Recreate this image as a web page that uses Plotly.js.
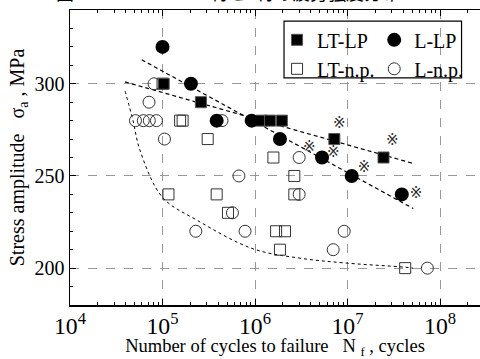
<!DOCTYPE html>
<html>
<head>
<meta charset="utf-8">
<script src="https://cdn.plot.ly/plotly-3.0.1.min.js"></script>
<style>html,body{margin:0;padding:0;background:#fff;}#chart{width:480px;height:359px;}</style>
</head>
<body>
<div id="chart"></div>
<script>
// LT-LP (filled squares)
const ltlpN = [1.03e5, 2.6e5, 1.18e6, 1.45e6, 1.95e6, 7.2e6, 2.45e7];
const ltlpS = [300, 290, 280, 280, 280, 270, 260];
// L-LP (filled circles)
const llpN = [1.0e5, 2.03e5, 3.85e5, 9.2e5, 1.86e6, 5.3e6, 1.11e7, 3.86e7];
const llpS = [320, 300, 280, 280, 270, 260, 250, 240];
// LT-n.p. (open squares)
const ltnpN = [1.0e5, 1.55e5, 1.65e5, 3.08e5, 1.16e5, 3.85e5, 5.1e5, 1.58e6, 2.66e6, 2.66e6, 1.69e6, 2.11e6, 1.86e6, 4.2e7];
const ltnpS = [300, 280, 280, 270, 240, 240, 230, 260, 250, 240, 220, 220, 210, 200];
// L-n.p. (open circles)
const lnpN = [8.1e4, 7.15e4, 5.1e4, 6.2e4, 7.2e4, 8.6e4, 4.4e5, 1.05e5, 6.7e5, 3.0e6, 3.0e6, 5.7e5, 2.29e5, 7.8e5, 9.2e6, 7.0e6, 7.3e7];
const lnpS = [300, 290, 280, 280, 280, 280, 280, 270, 250, 260, 240, 230, 220, 220, 220, 210, 200];
// ※ marks
const markN = [8.15e6, 3.85e6, 7.0e6, 3.05e7, 1.51e7, 5.5e7];
const markS = [278, 265, 262.5, 269, 254, 240];
// trend lines
const ltlpFitN = [3.94e4, 5.1e7];
const ltlpFitS = [301, 256.8];
const llpFitN = [5.96e4, 5.14e7];
const llpFitS = [313, 232.3];
const npFitN = [3.94e4, 4.8e4, 5.7e4, 1.0e5, 2.36e5, 9.5e5, 3.06e6, 9.9e6, 4.19e7, 5.1e7];
const npFitS = [296, 280, 264, 238.4, 226, 210.5, 205.4, 202.7, 200.5, 200];

const ser = 'Liberation Serif, Times New Roman, serif';
const dashLine = {color: '#000', width: 1.2, dash: '4px,3px'};

const traces = [
  {x: ltlpFitN, y: ltlpFitS, mode: 'lines', line: dashLine, showlegend: false, hoverinfo: 'skip'},
  {x: llpFitN, y: llpFitS, mode: 'lines', line: dashLine, showlegend: false, hoverinfo: 'skip'},
  {x: npFitN, y: npFitS, mode: 'lines', line: {color: '#000', width: 1, dash: '3px,3px', shape: 'spline'}, showlegend: false, hoverinfo: 'skip'},
  {x: ltnpN, y: ltnpS, mode: 'markers', name: 'LT-n.p.', legend: 'legend',
   marker: {symbol: 'square-open', size: 11, color: '#333', line: {width: 1}}},
  {x: lnpN, y: lnpS, mode: 'markers', name: 'L-n.p.', legend: 'legend2',
   marker: {symbol: 'circle-open', size: 12, color: '#333', line: {width: 1}}},
  {x: ltlpN, y: ltlpS, mode: 'markers', name: 'LT-LP', legend: 'legend',
   marker: {symbol: 'square', size: 11, color: '#000', line: {width: 1, color: '#555'}}},
  {x: llpN, y: llpS, mode: 'markers', name: 'L-LP', legend: 'legend2',
   marker: {symbol: 'circle', size: 14, color: '#000'}},
  {x: markN, y: markS, mode: 'text', text: markN.map(() => '※'), showlegend: false,
   textfont: {family: 'DejaVu Sans', size: 15, color: '#333'}, hoverinfo: 'skip'}
];

const layout = {
  width: 480, height: 359,
  margin: {l: 70, r: 0, t: 10, b: 54},
  paper_bgcolor: '#fff', plot_bgcolor: '#fff',
  font: {family: ser, color: '#000', size: 18},
  xaxis: {
    type: 'log', range: [4, 8.432], dtick: 1, exponentformat: 'power',
    showline: true, linecolor: '#000', linewidth: 1.5, mirror: 'ticks',
    ticks: 'inside', ticklen: 6, tickcolor: '#000',
    minor: {ticks: 'inside', ticklen: 3, dtick: 'D1', tickcolor: '#000', showgrid: false},
    showgrid: true, gridcolor: '#999', griddash: 'dash', gridwidth: 1,
    zeroline: false, tickfont: {family: ser, size: 19},
    title: {text: 'Number of cycles to failure   N <sub>f</sub> , cycles', font: {family: ser, size: 18.5}, standoff: 8}
  },
  yaxis: {
    range: [180, 340], dtick: 50, tick0: 200,
    showline: true, linecolor: '#000', linewidth: 1.5, mirror: false,
    ticks: 'inside', ticklen: 6, tickcolor: '#000',
    minor: {ticks: 'inside', ticklen: 3, dtick: 10, tickcolor: '#000', showgrid: false},
    showgrid: true, gridcolor: '#999', griddash: 'dash', gridwidth: 1,
    zeroline: false, tickfont: {family: ser, size: 20},
    title: {text: 'Stress amplitude   σ<sub>a</sub> , MPa', font: {family: ser, size: 20}, standoff: 4}
  },
  legend: {x: 0.505, y: 0.965, xanchor: 'left', yanchor: 'top', bgcolor: 'rgba(0,0,0,0)',
    borderwidth: 0, font: {family: ser, size: 20}, tracegroupgap: 0, itemwidth: 30, traceorder: 'reversed'},
  legend2: {x: 0.742, y: 0.965, xanchor: 'left', yanchor: 'top', bgcolor: 'rgba(0,0,0,0)',
    borderwidth: 0, font: {family: ser, size: 20}, tracegroupgap: 0, itemwidth: 30, traceorder: 'reversed'},
  shapes: [
    {type: 'rect', xref: 'paper', yref: 'paper', x0: 0.522, x1: 0.955, y0: 0.77, y1: 0.962,
     line: {color: '#000', width: 1.2}, fillcolor: '#fff', layer: 'below'}
  ],
  annotations: [
    {text: '図', xref: 'paper', yref: 'paper', x: -0.012, y: 1.0, yshift: 3, xanchor: 'center', yanchor: 'bottom',
     showarrow: false, font: {family: 'Noto Sans CJK JP', size: 18}},
    {text: 'LT材とL材の疲労強度分布', xref: 'paper', yref: 'paper', x: 0.55, y: 1.0, yshift: 3, xanchor: 'center', yanchor: 'bottom',
     showarrow: false, font: {family: 'Noto Sans CJK JP', size: 18}}
  ]
};

Plotly.newPlot('chart', traces, layout, {displayModeBar: false, staticPlot: true});
</script>
</body>
</html>
